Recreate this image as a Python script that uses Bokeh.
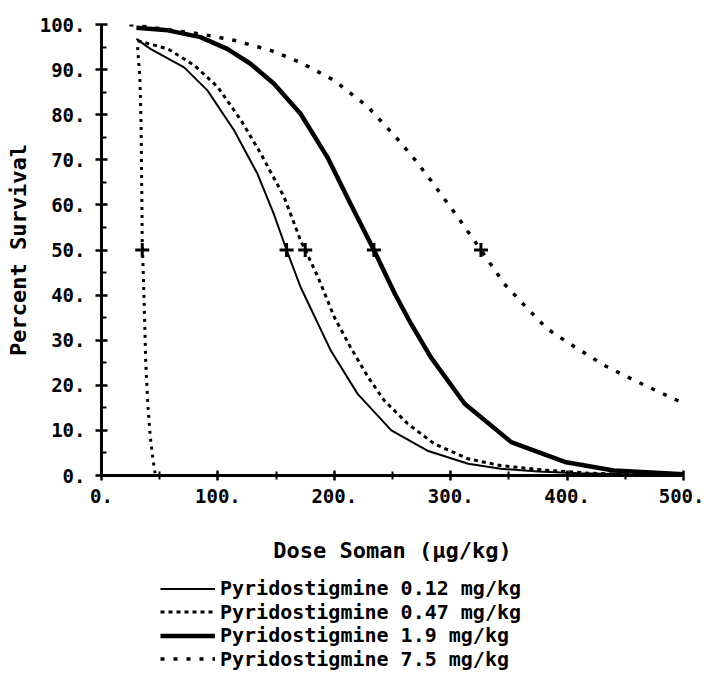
from bokeh.plotting import figure
from bokeh.models import FixedTicker, Legend, LegendItem, Range1d
from bokeh.layouts import column
from bokeh.embed import file_html
from bokeh.resources import INLINE

# ---- data ----
x_012 = [30, 42, 71, 91, 114, 134, 148, 159, 171, 197, 220, 249, 280, 315, 343, 375, 410, 450, 500]
y_012 = [96.8, 94.6, 90.5, 85.4, 76.5, 66.9, 58, 50, 41.8, 27.7, 18.1, 10, 5.5, 2.6, 1.5, 0.9, 0.5, 0.3, 0.1]

x_047 = [31, 57, 80, 100, 120, 137, 157, 171, 175, 186, 200, 214, 229, 243, 263, 286, 315, 343, 380, 420, 460, 500]
y_047 = [96.4, 94.6, 90.9, 86.1, 78.7, 71.3, 61.7, 52.1, 50, 44, 35.1, 28.4, 21.8, 16.6, 11.5, 7, 3.7, 2.2, 1.2, 0.5, 0.2, 0.1]

x_19 = [30, 57, 85, 108, 128, 148, 171, 194, 214, 234, 252, 266, 283, 312, 352, 398, 440, 500]
y_19 = [99.3, 98.7, 97.2, 94.6, 91.3, 86.9, 80.2, 70.6, 60.2, 50, 40.3, 33.6, 26.2, 15.9, 7.4, 3, 1.1, 0.3]

x_75 = [24, 85, 114, 146, 171, 200, 229, 253, 270, 283, 306, 326, 346, 366, 383, 400, 432, 461, 500]
y_75 = [100, 97.9, 96.5, 94.2, 91.6, 87.6, 81.7, 75, 69.8, 65.4, 57.3, 50, 42.5, 37, 32.5, 29.6, 24.4, 20.7, 16]

x_ctrl = [31, 33, 34, 34.5, 35, 36, 37, 38, 40, 42, 44, 46]
y_ctrl = [95, 88, 78, 66, 52, 44, 35, 25, 15, 8.4, 4, 0.5]

ld50_x = [35, 159, 175, 234, 326]
ld50_y = [50, 50, 50, 50, 50]

labels = ["Pyridostigmine 0.12 mg/kg", "Pyridostigmine 0.47 mg/kg",
          "Pyridostigmine 1.9 mg/kg", "Pyridostigmine 7.5 mg/kg"]

x_major = [0, 100, 200, 300, 400, 500]
x_minor = [50, 150, 250, 350, 450]
y_major = [0, 10, 20, 30, 40, 50, 60, 70, 80, 90, 100]
y_minor = [5, 15, 25, 35, 45, 55, 65, 75, 85, 95]

FONT = "DejaVu Sans Mono"

styles = [dict(line_color="black", line_width=2),
          dict(line_color="black", line_width=3, line_dash="4 4"),
          dict(line_color="black", line_width=4.5),
          dict(line_color="black", line_width=3.5, line_dash="4 9")]
series = [(x_012, y_012), (x_047, y_047), (x_19, y_19), (x_75, y_75)]

p = figure(width=704, height=575, output_backend="svg", toolbar_location=None,
           x_range=Range1d(0, 500), y_range=Range1d(0, 100),
           min_border_left=101, min_border_right=21, min_border_top=24,
           min_border_bottom=100)
p.outline_line_color = None
p.grid.visible = False
p.background_fill_color = "white"
p.border_fill_color = "white"

for (xs, ys), s in zip(series, styles):
    p.line(xs, ys, **s)
p.line(x_ctrl, y_ctrl, line_color="black", line_width=3, line_dash="3 5")
p.scatter(ld50_x, ld50_y, marker="cross", size=14, line_color="black", line_width=3)

for ax in (p.xaxis[0], p.yaxis[0]):
    ax.axis_line_width = 3
    ax.axis_line_color = "black"
    ax.major_tick_line_width = 2.5
    ax.minor_tick_line_width = 2
    ax.major_label_text_font = FONT
    ax.major_label_text_font_style = "bold"
    ax.major_label_text_font_size = "19px"
    ax.major_label_text_color = "black"
    ax.axis_label_text_font = FONT
    ax.axis_label_text_font_style = "bold"
    ax.axis_label_text_font_size = "22px"
    ax.axis_label_text_color = "black"

p.xaxis.ticker = FixedTicker(ticks=x_major, minor_ticks=x_minor)
p.yaxis.ticker = FixedTicker(ticks=y_major, minor_ticks=y_minor)
p.xaxis.major_label_overrides = {v: f"{v}." for v in x_major}
p.yaxis.major_label_overrides = {v: f"{v}." for v in y_major}

p.xaxis.major_tick_in = 5
p.xaxis.major_tick_out = 5
p.xaxis.minor_tick_in = 4
p.xaxis.minor_tick_out = 4
p.xaxis.major_label_standoff = 8
p.xaxis.axis_label = "Dose Soman (μg/kg)"
p.xaxis.axis_label_standoff = 32

p.yaxis.major_tick_in = 6
p.yaxis.major_tick_out = 6
p.yaxis.minor_tick_in = 5
p.yaxis.minor_tick_out = 0
p.yaxis.major_label_standoff = 10
p.yaxis.axis_label = "Percent Survival"
p.yaxis.axis_label_standoff = 6

# ---- legend panel below the plot (its lines lie outside its own view) ----
p2 = figure(width=704, height=123, output_backend="svg", toolbar_location=None,
            x_range=Range1d(1000, 1001), y_range=Range1d(1000, 1001),
            min_border_left=101, min_border_right=21, min_border_top=0,
            min_border_bottom=0)
p2.axis.visible = False
p2.grid.visible = False
p2.outline_line_color = None
p2.background_fill_color = "white"
p2.border_fill_color = "white"
legend_renderers = [p2.line(xs, ys, **s) for (xs, ys), s in zip(series, styles)]

row_bottoms = [98, 74.5, 51, 27.5]
for lab, r, yb in zip(labels, legend_renderers, row_bottoms):
    lg = Legend(items=[LegendItem(label=lab, renderers=[r])],
                location=(59, yb), orientation="vertical",
                glyph_width=55, glyph_height=19, label_height=19,
                label_standoff=5, spacing=0, padding=0, margin=0,
                border_line_color=None, background_fill_alpha=0,
                label_text_font=FONT, label_text_font_style="bold",
                label_text_font_size="20px", label_text_color="black")
    p2.add_layout(lg, "center")

layout = column(p, p2, spacing=0)
open("out.html", "w").write(file_html(layout, INLINE))
